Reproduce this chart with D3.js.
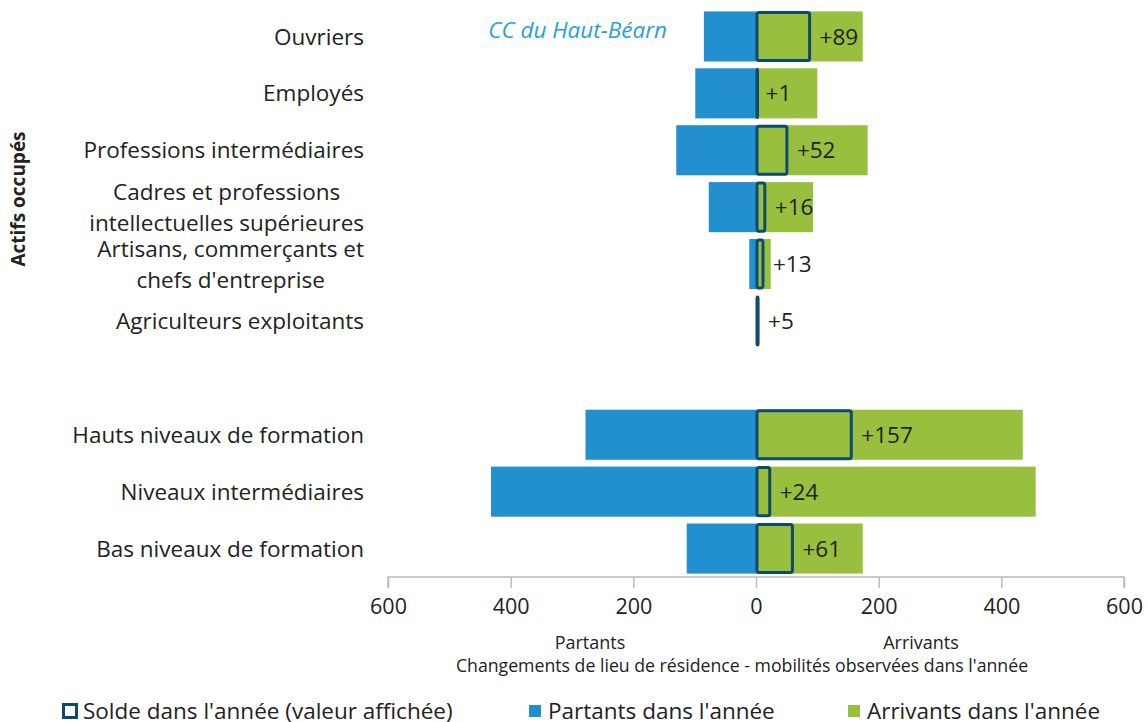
<!DOCTYPE html>
<html>
<head>
<meta charset="utf-8">
<script src="https://cdn.jsdelivr.net/npm/d3@7"></script>
<style>
  body { margin: 0; background: #fff; }
  text { font-family: "Open Sans", sans-serif; fill: #222; }
</style>
</head>
<body>
<svg id="chart" width="1148" height="722"></svg>
<script>
// --------------- Data ---------------
const categories = [
  ["Ouvriers"],
  ["Employés"],
  ["Professions intermédiaires"],
  ["Cadres et professions", "intellectuelles supérieures"],
  ["Artisans, commerçants et", "chefs d'entreprise"],
  ["Agriculteurs exploitants"],
  null, // gap between the two groups
  ["Hauts niveaux de formation"],
  ["Niveaux intermédiaires"],
  ["Bas niveaux de formation"]
];
const partants = [85, 99, 130, 77, 11, 0, null, 278, 432, 113];
const arrivants = [174, 100, 182, 93, 24, 5, null, 435, 456, 174];
const solde = [89, 1, 52, 16, 13, 5, null, 157, 24, 61];
const xTicks = [-600, -400, -200, 0, 200, 400, 600];

const BLUE = "#228fce";
const GREEN = "#98bf3d";
const DARK = "#0d4a6e";
const FS = 22.5;

const svg = d3.select("#chart");

// --------------- Scales ---------------
const x = d3.scaleLinear().domain([-600, 600]).range([388, 1124]);
const y = d3.scaleBand()
  .domain(d3.range(categories.length))
  .range([8, 577])
  .paddingInner(0.12)
  .paddingOuter(0.06);

const rows = d3.range(categories.length).filter(i => categories[i] !== null);

// partants (left)
svg.append("g").selectAll("rect")
  .data(rows)
  .enter().append("rect")
  .attr("x", i => x(-partants[i]))
  .attr("y", i => y(i))
  .attr("width", i => x(0) - x(-partants[i]))
  .attr("height", y.bandwidth())
  .attr("fill", BLUE);

// arrivants (right)
svg.append("g").selectAll("rect")
  .data(rows)
  .enter().append("rect")
  .attr("x", x(0))
  .attr("y", i => y(i))
  .attr("width", i => x(arrivants[i]) - x(0))
  .attr("height", y.bandwidth())
  .attr("fill", GREEN);

// solde outline
svg.append("g").selectAll("rect")
  .data(rows)
  .enter().append("rect")
  .attr("x", x(0) + 1)
  .attr("y", i => y(i) + 1)
  .attr("width", i => Math.max(0.5, x(solde[i]) - x(0) - 2))
  .attr("height", y.bandwidth() - 2)
  .attr("rx", 2)
  .attr("fill", "none")
  .attr("stroke", DARK)
  .attr("stroke-width", 3);

// solde labels
svg.append("g").selectAll("text")
  .data(rows)
  .enter().append("text")
  .attr("x", i => x(solde[i]) + 9)
  .attr("y", i => y(i) + y.bandwidth() / 2)
  .attr("dy", "0.36em")
  .attr("font-size", FS)
  .text(i => "+" + solde[i]);

// category labels: block right-aligned at 364, lines centred within block
const gLab = svg.append("g");
rows.forEach(i => {
  const lines = categories[i];
  const cy = y(i) + y.bandwidth() / 2;
  const tmp = lines.map((line, k) => gLab.append("text")
    .attr("font-size", FS)
    .attr("dy", "0.36em")
    .attr("y", cy + (k - (lines.length - 1) / 2) * 31)
    .text(line));
  const maxW = d3.max(tmp, t => t.node().getComputedTextLength());
  tmp.forEach(t => t.attr("text-anchor", "middle").attr("x", 364 - maxW / 2));
});

// --------------- Axis ---------------
const axis = d3.axisBottom(x)
  .tickValues(xTicks)
  .tickSize(11)
  .tickPadding(11)
  .tickFormat(d => Math.abs(d));

const gx = svg.append("g")
  .attr("transform", "translate(0,577)")
  .call(axis);
gx.select(".domain").attr("stroke", "#bbb").attr("stroke-width", 1.5)
  .attr("d", `M${x(-600)},11V0H${x(600)}V11`);
gx.selectAll(".tick line").attr("stroke", "#bbb").attr("stroke-width", 1.5);
gx.selectAll(".tick text")
  .attr("font-size", 21.5)
  .attr("font-family", "Open Sans, sans-serif")
  .attr("fill", "#222");

svg.append("text").attr("x", 590).attr("y", 649).attr("text-anchor", "middle")
  .attr("font-size", 18).text("Partants");
svg.append("text").attr("x", 921).attr("y", 649).attr("text-anchor", "middle")
  .attr("font-size", 18).text("Arrivants");
svg.append("text").attr("x", 742).attr("y", 672).attr("text-anchor", "middle")
  .attr("font-size", 17.7).text("Changements de lieu de résidence - mobilités observées dans l'année");

// title inside plot
svg.append("text").attr("x", 667).attr("y", 38).attr("text-anchor", "end")
  .attr("font-size", FS).attr("font-style", "italic")
  .style("fill", "#2a9fd6").text("CC du Haut-Béarn");

// y group title
svg.append("text")
  .attr("transform", "translate(25,199) rotate(-90)")
  .attr("text-anchor", "middle")
  .attr("font-size", 19)
  .attr("font-weight", "bold")
  .text("Actifs occupés");

// --------------- Legend ---------------
const legend = svg.append("g").attr("transform", "translate(0,711)");
legend.append("rect").attr("x", 63.5).attr("y", -6.5).attr("width", 13).attr("height", 13)
  .attr("fill", "none").attr("stroke", DARK).attr("stroke-width", 3);
legend.append("text").attr("x", 83).attr("dy", "0.36em").attr("font-size", FS)
  .text("Solde dans l'année (valeur affichée)");
legend.append("rect").attr("x", 529).attr("y", -6).attr("width", 12).attr("height", 12).attr("fill", BLUE);
legend.append("text").attr("x", 548).attr("dy", "0.36em").attr("font-size", FS)
  .text("Partants dans l'année");
legend.append("rect").attr("x", 848).attr("y", -6).attr("width", 12).attr("height", 12).attr("fill", GREEN);
legend.append("text").attr("x", 867).attr("dy", "0.36em").attr("font-size", FS)
  .text("Arrivants dans l'année");
</script>
</body>
</html>
